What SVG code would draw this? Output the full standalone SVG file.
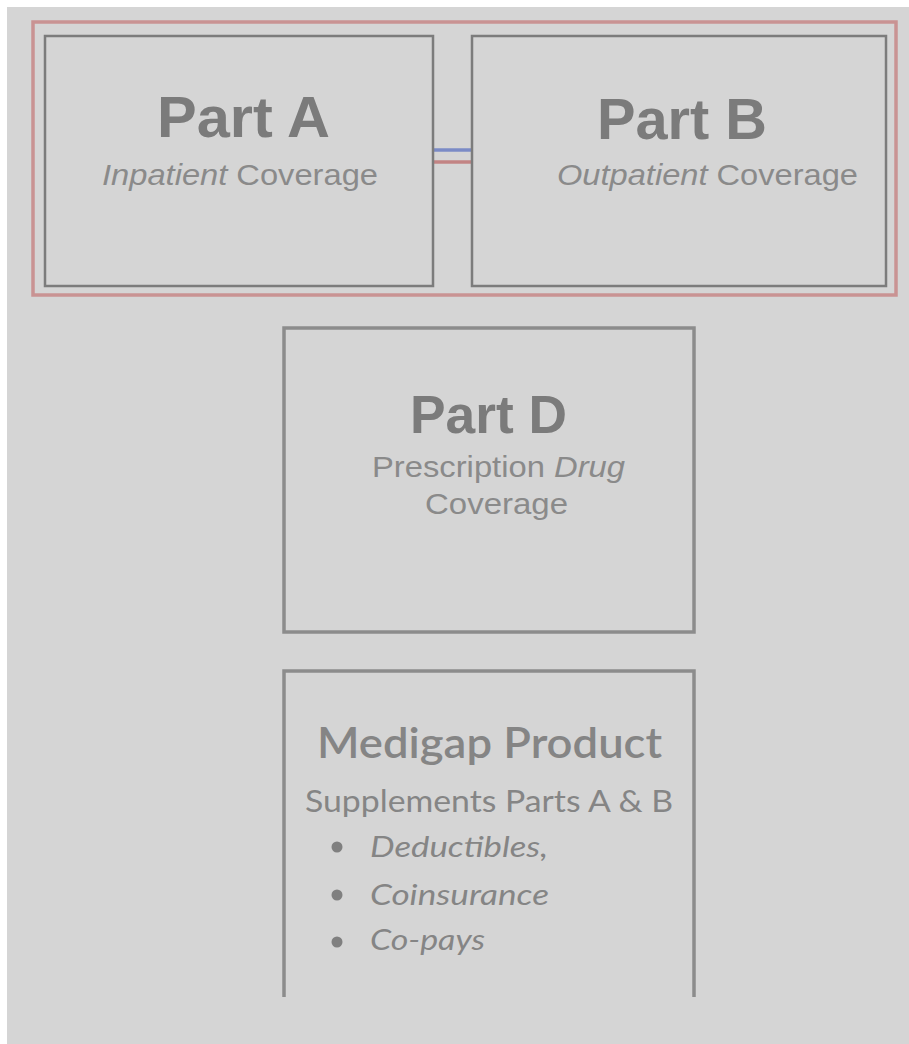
<svg xmlns="http://www.w3.org/2000/svg" width="909" height="1044" viewBox="0 0 909 1044">
<style>
.box{fill:none;stroke:#7c7c7c;stroke-width:2.5}
.boxl{fill:none;stroke:#8c8c8c;stroke-width:3.5}
.title{font-family:"Liberation Sans",Arial,sans-serif;font-weight:bold;fill:#7b7b7b;text-anchor:start}
.sub{font-family:"Liberation Sans",Arial,sans-serif;fill:#8a8a8a}
.cal{font-family:Lato,"Open Sans",sans-serif;fill:#858585}
.it{font-style:italic}
</style>
<rect width="909" height="1044" fill="#ffffff"/>
<rect x="7" y="7" width="902" height="1037" fill="#d5d5d5"/>
<rect x="33" y="22" width="863" height="273" fill="none" stroke="#c99393" stroke-width="3.5"/>
<g id="connectors">
<line x1="433" y1="150" x2="471" y2="150" stroke="#7b8bc6" stroke-width="3.5"/>
<line x1="433" y1="162" x2="471" y2="162" stroke="#c28484" stroke-width="3.5"/>
</g>
<g id="partA">
<rect class="box" x="45" y="36" width="388" height="250"/>
<text class="title" x="157" y="137" font-size="57" textLength="173" lengthAdjust="spacingAndGlyphs">Part A</text>
<text class="sub" x="102" y="185" font-size="30" textLength="276" lengthAdjust="spacingAndGlyphs"><tspan class="it">Inpatient</tspan> Coverage</text>
</g>
<g id="partB">
<rect class="box" x="472" y="36" width="414" height="250"/>
<text class="title" x="597" y="139" font-size="57" textLength="170" lengthAdjust="spacingAndGlyphs">Part B</text>
<text class="sub" x="557" y="185" font-size="30" textLength="301" lengthAdjust="spacingAndGlyphs"><tspan class="it">Outpatient</tspan> Coverage</text>
</g>
<g id="partD">
<rect class="boxl" x="284" y="328" width="410" height="304"/>
<text class="title" x="410" y="433" font-size="53" textLength="157" lengthAdjust="spacingAndGlyphs">Part D</text>
<text class="sub" x="372" y="477" font-size="29" textLength="253" lengthAdjust="spacingAndGlyphs">Prescription <tspan class="it">Drug</tspan></text>
<text class="sub" x="425" y="514" font-size="29" textLength="143" lengthAdjust="spacingAndGlyphs">Coverage</text>
</g>
<g id="medigap">
<path class="boxl" d="M284 997 V671 H694 V997"/>
<text class="cal" x="317" y="758" font-size="42" font-weight="600" fill="#7b7b7b" textLength="345" lengthAdjust="spacingAndGlyphs">Medigap Product</text>
<text class="cal" x="305" y="812" font-size="30" textLength="368" lengthAdjust="spacingAndGlyphs">Supplements Parts A &amp; B</text>
<circle cx="337" cy="847" r="5.5" fill="#808080"/>
<circle cx="337" cy="895" r="5.5" fill="#808080"/>
<circle cx="337" cy="942" r="5.5" fill="#808080"/>
<text class="cal it" x="370" y="857" font-size="29" textLength="178" lengthAdjust="spacingAndGlyphs">Deductibles,</text>
<text class="cal it" x="370" y="905" font-size="29" textLength="179" lengthAdjust="spacingAndGlyphs">Coinsurance</text>
<text class="cal it" x="370" y="950" font-size="29" textLength="115" lengthAdjust="spacingAndGlyphs">Co-pays</text>
</g>
</svg>
